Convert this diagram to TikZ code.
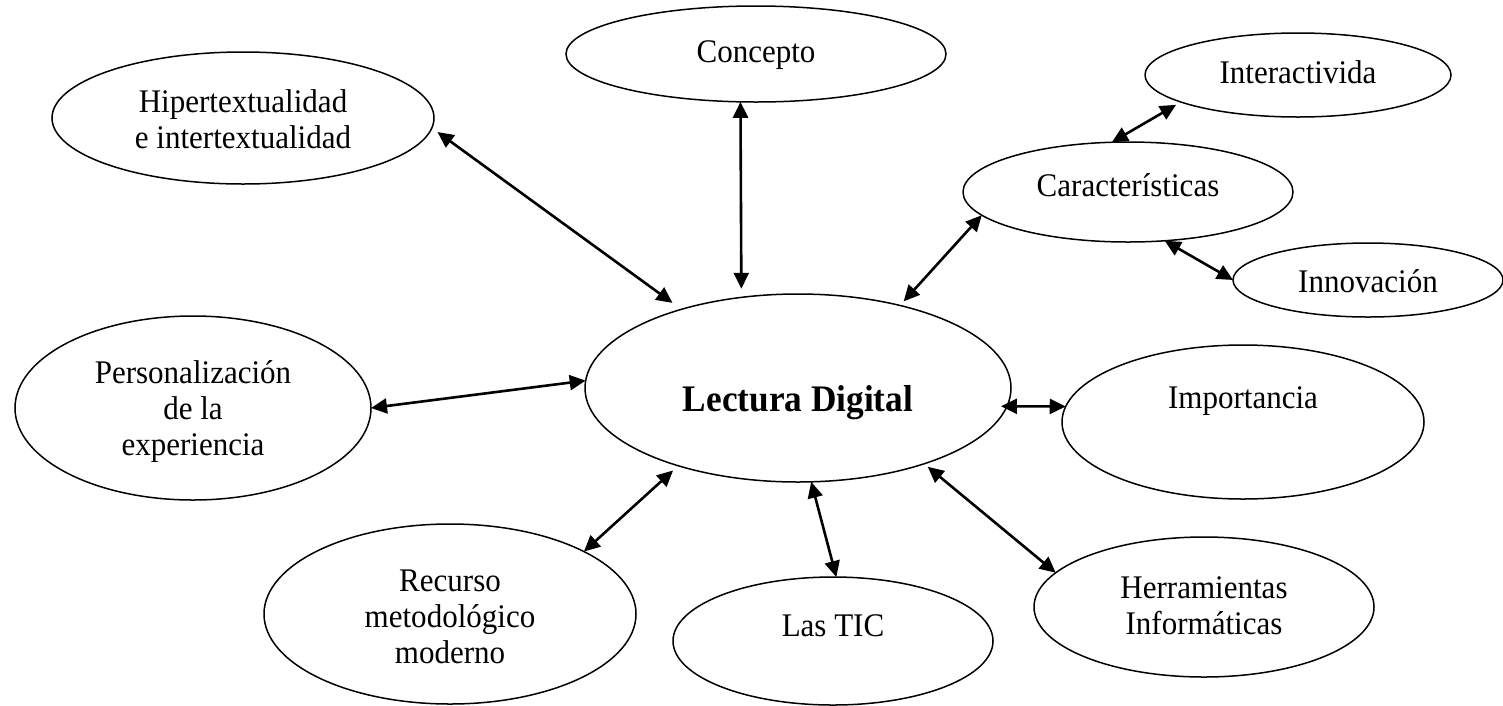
\documentclass[tikz,border=0pt]{standalone}
\usepackage{fontspec}
\setmainfont{Liberation Serif}[FakeStretch=0.94]
\usetikzlibrary{arrows.meta,shapes.geometric}
\begin{document}
\begin{tikzpicture}[x=1pt,y=-1pt,
  ell/.style={draw, ellipse, line width=1.5pt, inner sep=0pt, outer sep=0pt,
    font=\fontsize{33}{36}\selectfont, align=center},
  arr/.style={line width=2.6pt,
    {Triangle[length=16pt,width=15pt]}-{Triangle[length=16pt,width=15pt]}}]
\useasboundingbox (0,0) rectangle (1503,705);
\fill[white] (0,0) rectangle (1503,705);

\node[ell, minimum width=380pt, minimum height=96pt, text height=16pt, text depth=0pt] (con) at (756,54) {Concepto};
\node[ell, minimum width=382pt, minimum height=132pt, text height=60pt, text depth=0pt] (hip) at (243,118) {Hipertextualidad\\e intertextualidad};
\node[ell, minimum width=306pt, minimum height=84pt, text height=16pt, text depth=0pt] (int) at (1298,75) {Interactivida};
\node[ell, minimum width=330pt, minimum height=100pt, text height=8pt, text depth=0pt] (car) at (1128,192) {Características};
\node[ell, minimum width=270pt, minimum height=74pt, text height=24pt, text depth=0pt] (inn) at (1368,280) {Innovación};
\node[ell, minimum width=426pt, minimum height=188pt, text height=46pt, text depth=0pt,
  font=\fontsize{37.5}{40}\selectfont\bfseries] (lec) at (798,388) {Lectura Digital};
\node[ell, minimum width=356pt, minimum height=184pt, text height=94pt, text depth=0pt] (per) at (193,408) {Personalización\\de la\\experiencia};
\node[ell, minimum width=362pt, minimum height=154pt, text height=0pt, text depth=28pt] (imp) at (1243,422) {Importancia};
\node[ell, minimum width=372pt, minimum height=180pt, text height=98pt, text depth=0pt] (rec) at (450,614) {Recurso\\metodológico\\moderno};
\node[ell, minimum width=320pt, minimum height=128pt, text height=0pt, text depth=10pt] (tic) at (833,641) {Las TIC};
\node[ell, minimum width=340pt, minimum height=140pt, text height=54pt, text depth=0pt] (her) at (1204,607) {Herramientas\\Informáticas};

\draw[arr, shorten >=8.6pt] (con.-108.5) -- (lec.122.9);
\draw[arr, shorten <=7pt, shorten >=11pt] (hip.-3.3) -- (lec.146.1);
\draw[arr, shorten >=5.5pt] (car.-171.4) -- (lec.39.6);
\draw[arr, shorten <=5.6pt] (int.-167.8) -- (car.108.1);
\draw[arr] (car.-53.5) -- (inn.180);
\draw[arr] (per.0) -- (lec.178.4);
\draw[arr, shorten <=-6pt] (lec.-5.5) -- (imp.175.5);
\draw[arr, shorten >=7pt] (rec.25.4) -- (lec.-147.6);
\draw[arr] (tic.87.4) -- (lec.-82.1);
\draw[arr, shorten >=4.7pt] (her.167.6) -- (lec.-31.2);
\end{tikzpicture}
\end{document}
